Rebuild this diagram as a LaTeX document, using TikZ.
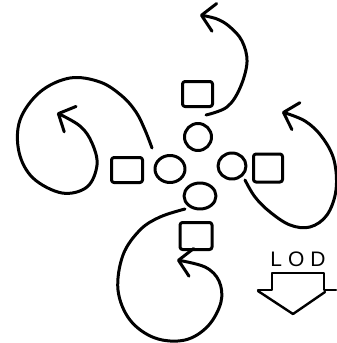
\documentclass[tikz,border=0pt]{standalone}
\usepackage{fontspec}
\setmainfont{Liberation Sans}
\usetikzlibrary{arrows.meta,shapes.geometric}
\begin{document}
\begin{tikzpicture}[x=1pt,y=-1pt,line width=3pt,line cap=round,line join=round,
  sq/.style={draw,rounded corners=2.5pt,inner sep=0pt},
  ring/.style={draw,ellipse,inner sep=0pt},
  swirl/.style={-{Straight Barb[length=13pt,width=28pt,round]}}]
\useasboundingbox (0,0) rectangle (337,343);

% blades: squares and circles
\node[sq,minimum width=30pt,minimum height=25pt] (ts) at (197.5,94) {};
\node[ring,minimum width=27pt,minimum height=27pt] (tc) at (198,137) {};
\node[sq,minimum width=31pt,minimum height=25pt] (ls) at (127,170) {};
\node[ring,minimum width=30pt,minimum height=27pt] (lc) at (170,169) {};
\node[ring,minimum width=28pt,minimum height=26pt] (rc) at (232,166) {};
\node[sq,minimum width=29pt,minimum height=28pt] (rs) at (268,168) {};
\node[ring,minimum width=32pt,minimum height=26pt] (bc) at (200,196) {};
\node[sq,minimum width=32pt,minimum height=27pt] (bs) at (196,236) {};

% ends of the swirling arrows
\coordinate (ta) at (206,115);
\coordinate (tb) at (200,15);
\coordinate (la) at (152,148);
\coordinate (lb) at (57,113);
\coordinate (ra) at (245,180);
\coordinate (rb) at (282,112);
\coordinate (ba) at (185,209);
\coordinate (bb) at (177,260);

\draw[swirl] plot[smooth,tension=0.6] coordinates
  {(ta) (227,107) (240,88) (247,62) (242,41) (230,27) (217,19) (tb)};
\draw[swirl] plot[smooth,tension=0.6] coordinates
  {(la) (145,130) (136,112) (122,96) (100,82) (70,78) (40,92) (20,120)
   (19,152) (33,178) (62,193) (87,187) (97,165) (92,143) (80,126) (lb)};
\draw[swirl] plot[smooth,tension=0.6] coordinates
  {(ra) (255,197) (270,212) (290,225) (310,227) (327,215) (336,190)
   (334,160) (322,137) (305,121) (rb)};
\draw[swirl] plot[smooth,tension=0.6] coordinates
  {(ba) (160,217) (140,230) (123,255) (118,290) (130,320) (155,338)
   (185,340) (208,326) (221,302) (219,281) (205,267) (bb)};

% direction marker
\node[font=\fontsize{21}{21}\selectfont,inner sep=0pt] (lod) at (298,259) {L\hspace{6pt}O\hspace{6pt}D};
\draw[line width=2.4pt] (258,290) -- (272,290) -- (272,273) -- (324,273)
  -- (324,290) -- (336,290);
\draw[line width=2.4pt] (258,291) -- (293,314) -- (325,292);
\end{tikzpicture}
\end{document}
